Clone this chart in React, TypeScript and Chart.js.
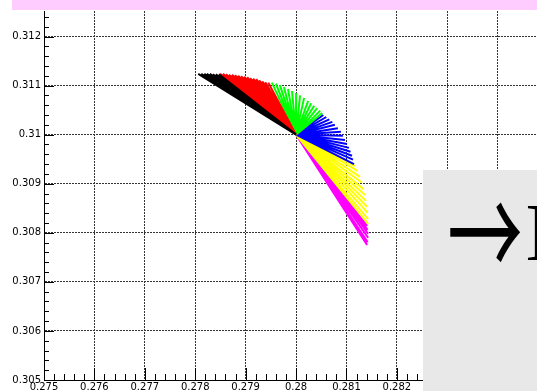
import React, { useEffect, useRef } from "react";
import { Chart, registerables } from "chart.js";

Chart.register(...registerables);

// Common origin of every ray (white point)
const ORIGIN_X = 0.28;
const ORIGIN_Y = 0.31;

// Ray end points, one list pair per colour family
const blackTipX = [0.27806, 0.27812, 0.27818, 0.27823, 0.27829, 0.27835, 0.27841, 0.27847];
const blackTipY = [0.31124, 0.31124, 0.31124, 0.31124, 0.31124, 0.31123, 0.31123, 0.31123];

const redTipX = [0.27849, 0.27855, 0.27861, 0.27867, 0.27873, 0.27879, 0.27885, 0.27891, 0.27897,
  0.27903, 0.27909, 0.27915, 0.27921, 0.27927, 0.27933, 0.27939, 0.27945];
const redTipY = [0.31124, 0.31124, 0.31123, 0.31122, 0.31122, 0.31121, 0.3112, 0.31119, 0.31118,
  0.31117, 0.31115, 0.31114, 0.31113, 0.31111, 0.31109, 0.31107, 0.31106];

const greenTipX = [0.27952, 0.2796, 0.27968, 0.27976, 0.27984, 0.27992, 0.28, 0.28008, 0.28016,
  0.28024, 0.2803, 0.28036, 0.28042, 0.28048, 0.28052];
const greenTipY = [0.31106, 0.31104, 0.31101, 0.31097, 0.31093, 0.31089, 0.31085, 0.3108, 0.31075,
  0.31069, 0.31064, 0.31059, 0.31054, 0.31049, 0.31044];

const blueTipX = [0.28054, 0.2806, 0.28066, 0.28072, 0.28077, 0.28083, 0.28089, 0.28093, 0.28097,
  0.28101, 0.28105, 0.28108, 0.28111, 0.28113, 0.28115];
const blueTipY = [0.3104, 0.31036, 0.31031, 0.31026, 0.3102, 0.31013, 0.31006, 0.30998, 0.30989,
  0.30981, 0.30973, 0.30965, 0.30957, 0.30949, 0.3094];

const yellowTipX = [0.28117, 0.28122, 0.28127, 0.28131, 0.28134, 0.28137, 0.28139, 0.28141, 0.28142,
  0.28143, 0.28143];
const yellowTipY = [0.30936, 0.30926, 0.30914, 0.30902, 0.30889, 0.30877, 0.30865, 0.30853, 0.30841,
  0.30828, 0.30818];

const magentaTipX = [0.28141, 0.28142, 0.28143, 0.28143, 0.28142, 0.28141];
const magentaTipY = [0.30814, 0.30806, 0.30798, 0.3079, 0.30781, 0.30775];

// Axis ranges and labelled ticks
const X_RANGE = [0.275, 0.28478];
const Y_RANGE = [0.305, 0.31252];
const xTickValues = [0.275, 0.276, 0.277, 0.278, 0.279, 0.28, 0.281, 0.282, 0.283, 0.284];
const yTickValues = [0.305, 0.306, 0.307, 0.308, 0.309, 0.31, 0.311, 0.312];
const MINOR_STEP = 0.0002;

const families = [
  { color: "#000000", xs: blackTipX, ys: blackTipY },
  { color: "#ff0000", xs: redTipX, ys: redTipY },
  { color: "#00ff00", xs: greenTipX, ys: greenTipY },
  { color: "#0000ff", xs: blueTipX, ys: blueTipY },
  { color: "#ffff00", xs: yellowTipX, ys: yellowTipY },
  { color: "#ff00ff", xs: magentaTipX, ys: magentaTipY },
];

const fmt = (v: number) => String(parseFloat(v.toFixed(3)));

// Inward-pointing major/minor tick marks on the left and bottom axes
const innerTicks = {
  id: "innerTicks",
  afterDraw(chart: any) {
    const { ctx, chartArea, scales } = chart;
    const xs = scales.x;
    const ys = scales.y;
    ctx.save();
    ctx.strokeStyle = "#000";
    ctx.lineWidth = 1;
    ctx.beginPath();
    for (let i = 0; ; i++) {
      const v = X_RANGE[0] + i * MINOR_STEP;
      if (v > X_RANGE[1] + 1e-9) break;
      const px = Math.round(xs.getPixelForValue(v)) + 0.5;
      const len = i % 5 === 0 ? 12 : 6;
      ctx.moveTo(px, chartArea.bottom);
      ctx.lineTo(px, chartArea.bottom - len);
    }
    for (let i = 0; ; i++) {
      const v = Y_RANGE[0] + i * MINOR_STEP;
      if (v > Y_RANGE[1] + 1e-9) break;
      const py = Math.round(ys.getPixelForValue(v)) + 0.5;
      const len = i % 5 === 0 ? 10 : 5;
      ctx.moveTo(chartArea.left, py);
      ctx.lineTo(chartArea.left + len, py);
    }
    ctx.stroke();
    ctx.restore();
  },
};

export default function App() {
  const canvasRef = useRef<HTMLCanvasElement | null>(null);

  useEffect(() => {
    const canvas = canvasRef.current;
    if (!canvas) return;

    const datasets = families.map((f) => ({
      data: f.xs.flatMap((x, i) => [
        { x: ORIGIN_X, y: ORIGIN_Y },
        { x, y: f.ys[i] },
        { x, y: null as any },
      ]),
      showLine: true,
      spanGaps: false,
      borderColor: f.color,
      backgroundColor: f.color,
      borderWidth: 2,
      borderCapStyle: "butt",
      pointRadius: 0,
      fill: false,
    }));

    const gridStyle = { color: "#333", lineWidth: 1, drawTicks: false, tickLength: 0 };
    const borderStyle = { display: true, color: "#000", width: 1, dash: [2, 1] };
    const tickFont = { family: "'DejaVu Sans'", size: 10 };

    const chart = new Chart(canvas, {
      type: "scatter",
      data: { datasets },
      plugins: [innerTicks],
      options: {
        responsive: false,
        animation: false,
        devicePixelRatio: 1,
        events: [],
        layout: { padding: { top: 11, left: 0, right: 0, bottom: 0 } },
        plugins: { legend: { display: false }, tooltip: { enabled: false } },
        scales: {
          x: {
            type: "linear",
            min: X_RANGE[0],
            max: X_RANGE[1],
            grid: gridStyle,
            border: borderStyle,
            afterBuildTicks: (s: any) => {
              s.ticks = xTickValues.map((value) => ({ value }));
            },
            afterFit: (s: any) => {
              s.height = 11;
            },
            ticks: {
              color: "#000",
              font: tickFont,
              padding: 1,
              maxRotation: 0,
              autoSkip: false,
              callback: (v: any) => fmt(Number(v)),
            },
          },
          y: {
            type: "linear",
            min: Y_RANGE[0],
            max: Y_RANGE[1],
            grid: gridStyle,
            border: borderStyle,
            afterBuildTicks: (s: any) => {
              s.ticks = yTickValues.map((value) => ({ value }));
            },
            afterFit: (s: any) => {
              s.width = 44;
            },
            ticks: {
              color: "#000",
              font: tickFont,
              padding: 3,
              autoSkip: false,
              callback: (v: any) => fmt(Number(v)),
            },
          },
        },
      },
    } as any);

    return () => chart.destroy();
  }, []);

  return (
    <div
      style={{
        position: "fixed",
        left: 0,
        top: 0,
        width: 537,
        height: 391,
        overflow: "hidden",
        background: "#ffffff",
      }}
    >
      <canvas ref={canvasRef} width={537} height={391} style={{ display: "block" }} />
      <div
        style={{
          position: "absolute",
          left: 12,
          top: 0,
          width: 525,
          height: 10,
          background: "#ffccff",
        }}
      />
      <div
        style={{
          position: "absolute",
          left: 423,
          top: 170,
          width: 114,
          height: 221,
          background: "#e8e8e8",
          overflow: "hidden",
        }}
      >
        <span
          style={{
            position: "absolute",
            left: 16.5,
            top: -3,
            fontFamily: "'Noto Sans CJK JP'",
            fontWeight: 400,
            fontSize: 90,
            lineHeight: "120px",
            whiteSpace: "nowrap",
            color: "#000",
            transformOrigin: "45px 64px",
            transform: "scale(0.84, 1.42)",
          }}
        >
          →
        </span>
        <span
          style={{
            position: "absolute",
            left: 102,
            top: 22,
            fontFamily: "'Liberation Serif', serif",
            fontSize: 82,
            lineHeight: "82px",
            whiteSpace: "nowrap",
            color: "#000",
          }}
        >
          I
        </span>
      </div>
    </div>
  );
}
